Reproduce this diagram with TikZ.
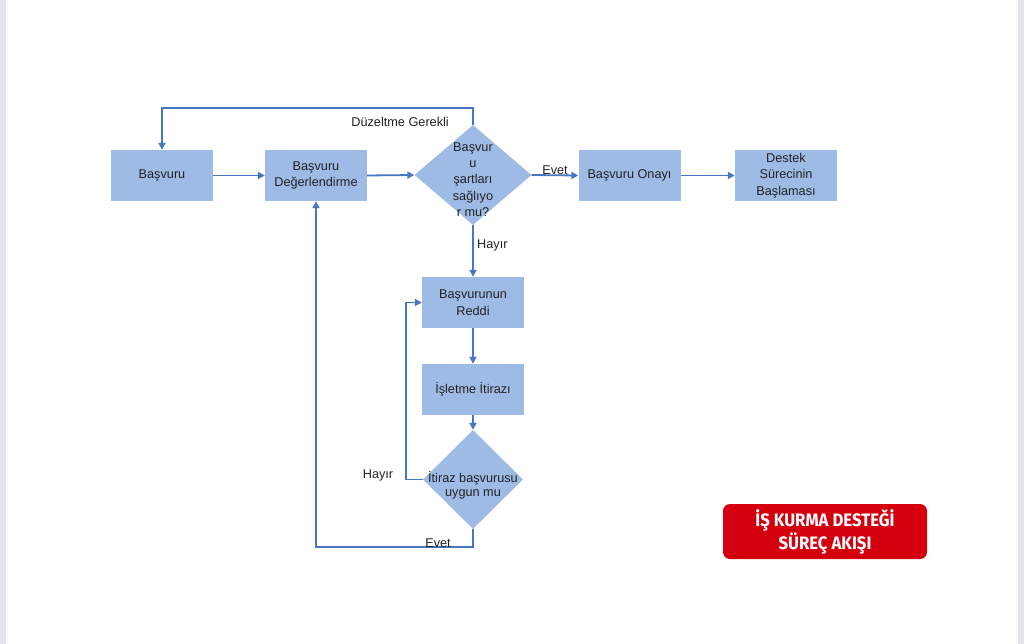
\documentclass[tikz,border=0pt]{standalone}
\usepackage{fontspec}
\setmainfont{Liberation Sans}
\newfontfamily\titlefont[FakeStretch=0.93]{Fira Sans}
\usetikzlibrary{shapes.geometric,arrows.meta}
\definecolor{boxfill}{HTML}{9EBBE6}
\definecolor{linecol}{HTML}{4677C0}
\definecolor{redbox}{HTML}{D5000F}
\definecolor{edgegray}{HTML}{E4E4E9}
\definecolor{txt}{HTML}{222222}
\begin{document}
\begin{tikzpicture}[x=1pt,y=-1pt,
  box/.style={rectangle, fill=boxfill, minimum width=102pt, minimum height=51pt, inner sep=0pt, align=center, text=txt, font=\fontsize{12.7}{16.5}\selectfont},
  dia/.style={diamond, fill=boxfill, inner sep=0pt},
  lbl/.style={inner sep=0pt, align=center, text=txt, font=\fontsize{12.7}{16.5}\selectfont},
  conn/.style={draw=linecol, line width=1.8pt, -{Triangle[length=7pt,width=7pt]}}]
\useasboundingbox (0,0) rectangle (1024,644);
\fill[white] (0,0) rectangle (1024,644);
\fill[edgegray] (0,0) rectangle (6,644);
\fill[edgegray] (1018,0) rectangle (1024,644);

\node[box] (bas) at (162,175.5) {Başvuru};
\node[box] (deg) at (316,175.5) {Başvuru\\Değerlendirme};
\node[dia, minimum width=117pt, minimum height=100pt] (d1) at (473,175) {};
\node[lbl, font=\fontsize{12.7}{16.3}\selectfont] (d1t) at (473,179.5) {Başvur\\u\\şartları\\sağlıyo\\r mu?};
\node[box] (onay) at (629.5,175.5) {Başvuru Onayı};
\node[box] (destek) at (786,175.5) {Destek\\Sürecinin\\Başlaması};
\node[box] (red) at (473,302.5) {Başvurunun\\Reddi};
\node[box] (itr) at (473,389.5) {İşletme İtirazı};
\node[dia, minimum width=100pt, minimum height=99pt] (d2) at (473,479.5) {};
\node[lbl, font=\fontsize{12.7}{14}\selectfont] (d2t) at (473,485) {İtiraz başvurusu\\uygun mu};

\draw[conn] (d1.north) -- ++(0,-17) -| (bas.north);
\draw[conn] (bas.east) -- (deg.west);
\draw[conn] (deg.east) -- (d1.west);
\draw[conn] (d1.east) -- (onay.west);
\draw[conn] (onay.east) -- (destek.west);
\draw[conn] (d1.south) -- (red.north);
\draw[conn] (red.south) -- (itr.north);
\draw[conn] (itr.south) -- (d2.north);
\draw[conn] (d2.west) -- ++(-17,0) |- (red.west);
\draw[conn] (d2.south) -- ++(0,18) -| (deg.south);

\node[lbl, anchor=east] (lduz) at (449,122) {Düzeltme Gerekli};
\node[lbl] (levet1) at (555,170) {Evet};
\node[lbl, anchor=west] (lhayir1) at (477,245) {Hayır};
\node[lbl] (lhayir2) at (378,475) {Hayır};
\node[lbl] (levet2) at (438,543) {Evet};

\node[fill=redbox, rounded corners=7pt, minimum width=204pt, minimum height=55pt, inner sep=0pt, text=white, align=center, font=\titlefont\bfseries\fontsize{18}{23}\selectfont] (title) at (825,531.5) {İŞ KURMA DESTEĞİ\\SÜREÇ AKIŞI};
\end{tikzpicture}
\end{document}
